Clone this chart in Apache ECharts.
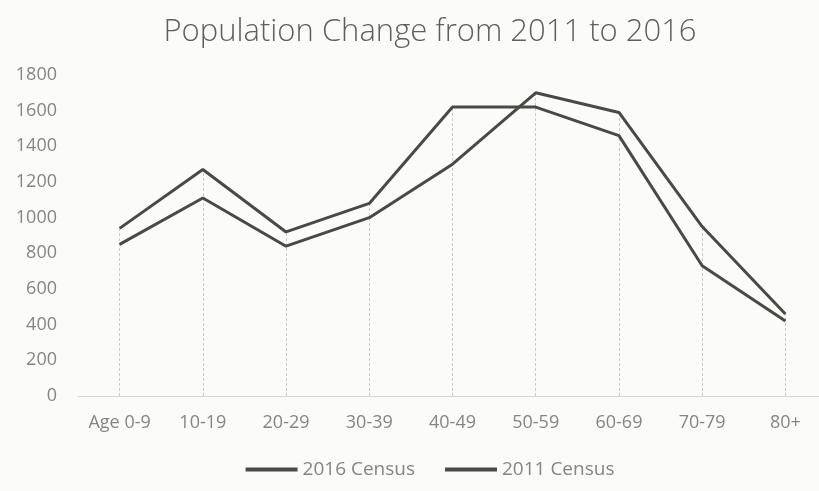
<!DOCTYPE html>
<html>
<head>
<meta charset="utf-8">
<script src="https://cdn.jsdelivr.net/npm/echarts@6/dist/echarts.min.js"></script>
<style>
  html, body { margin: 0; padding: 0; background: #fbfbfa; overflow: hidden; }
  /* wider than the window: the plot area runs slightly past the right edge */
  #chart { width: 860px; height: 491px; }
</style>
</head>
<body>
<div id="chart"></div>
<script>
// age groups on the x axis
const ageGroups = ['Age 0-9', '10-19', '20-29', '30-39', '40-49', '50-59', '60-69', '70-79', '80+'];
// census counts
const census2016 = [850, 1110, 840, 1000, 1300, 1700, 1590, 950, 460];
const census2011 = [940, 1270, 920, 1080, 1620, 1620, 1460, 730, 420];

const lineColor = '#484b43';
const textColor = '#858585';
const font = "'Open Sans', sans-serif";

// drop lines from the axis up to the higher of the two points
const dropLines = ageGroups.map((g, i) => [
  { coord: [i, 0] },
  { coord: [i, Math.max(census2016[i], census2011[i])] },
]);

const chart = echarts.init(document.getElementById('chart'));

const option = {
  backgroundColor: '#fbfbfa',
  animation: false,
  title: {
    text: 'Population Change from 2011 to 2016',
    left: 'center',
    top: 12,
    textStyle: {
      fontFamily: font,
      fontWeight: 'lighter',
      fontSize: 31,
      color: '#5f5f5f',
    },
  },
  legend: {
    bottom: 7,
    left: 'center',
    itemGap: 30,
    itemWidth: 52,
    itemHeight: 4,
    icon: 'rect',
    textStyle: { fontFamily: font, fontSize: 19, color: textColor },
    data: ['2016 Census', '2011 Census'],
  },
  grid: {
    left: 78,
    right: 33,
    top: 75,
    bottom: 95,
  },
  xAxis: {
    type: 'category',
    data: ageGroups,
    boundaryGap: true,
    axisLine: { lineStyle: { color: '#d4d4d4', width: 1 } },
    axisTick: { show: false },
    axisLabel: {
      fontFamily: font,
      fontSize: 18,
      color: textColor,
      margin: 18,
    },
  },
  yAxis: {
    type: 'value',
    min: 0,
    max: 1800,
    interval: 200,
    splitLine: { show: false },
    axisLine: { show: false },
    axisTick: { show: false },
    axisLabel: {
      fontFamily: font,
      fontSize: 18,
      color: textColor,
      margin: 21,
      formatter: v => String(v),
    },
  },
  series: [
    {
      name: '2016 Census',
      type: 'line',
      data: census2016,
      symbol: 'none',
      lineStyle: { color: lineColor, width: 3 },
      itemStyle: { color: lineColor },
      z: 3,
      markLine: {
        silent: true,
        symbol: 'none',
        label: { show: false },
        lineStyle: { color: '#cacaca', width: 1, type: [3, 2] },
        data: dropLines,
        z: 1,
      },
    },
    {
      name: '2011 Census',
      type: 'line',
      data: census2011,
      symbol: 'none',
      lineStyle: { color: lineColor, width: 3 },
      itemStyle: { color: lineColor },
      z: 3,
    },
  ],
};

chart.setOption(option);
window.addEventListener('resize', () => chart.resize());
</script>
</body>
</html>
